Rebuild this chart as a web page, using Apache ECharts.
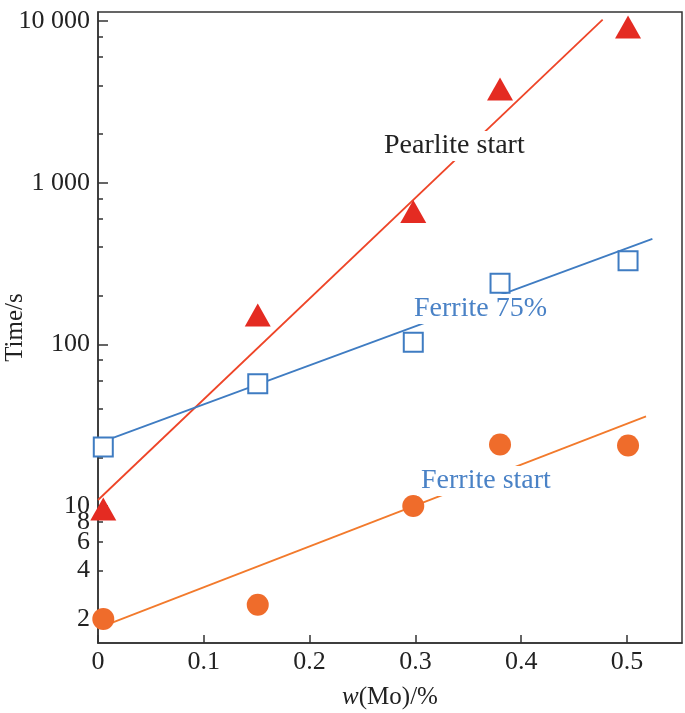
<!DOCTYPE html>
<html>
<head>
<meta charset="utf-8">
<script src="https://cdn.jsdelivr.net/npm/echarts@6/dist/echarts.min.js"></script>
<style>
  html, body { margin: 0; padding: 0; background: #fff; }
  #chart { width: 685px; height: 713px; }
</style>
</head>
<body>
<div id="chart"></div>
<script>
// Mo content (wt%) of the measured steels
const moContent = [0.005, 0.151, 0.298, 0.380, 0.501];
// times in seconds
const pearliteStart = [9.6, 152, 663, 3800, 9200];
const ferrite75 = [23.2, 57, 103, 239, 329];
const ferriteStart = [2.0, 2.45, 10.0, 24, 23.7];

// end points of the fitted lines
const pearliteFitX = [0, 0.477];
const pearliteFitY = [10.9, 10200];
const ferrite75FitX = [0, 0.524];
const ferrite75FitY = [24.4, 449];
const ferriteStartFitX = [0, 0.518];
const ferriteStartFitY = [1.76, 35.9];

// y axis tick labels (time, s)
const yLabelValues = [2, 4, 6, 8, 10, 100, 1000, 10000];
const yMajorTicks = [10, 100, 1000, 10000];
const yMinorTicks = [2, 4, 6, 8, 20, 40, 60, 80, 200, 400, 600, 800, 2000, 4000, 6000, 8000];
const xTicks = [0, 0.1, 0.2, 0.3, 0.4, 0.5];

const lg = v => Math.log10(v);
const pts = (xs, ys) => xs.map((x, i) => [x, lg(ys[i])]);

const fontFamily = '"Liberation Serif", "DejaVu Serif", serif';
const red = '#e42b22';
const redLine = '#ee4528';
const blue = '#3f7cc2';
const orange = '#ef6c2b';
const orangeLine = '#f27a2c';

const chart = echarts.init(document.getElementById('chart'));

chart.setOption({
    animation: false,
    textStyle: { fontFamily: fontFamily },
    grid: {
        left: 98,
        right: 3,
        top: 12,
        bottom: 70,
        outerBoundsMode: 'none',
        containLabel: false,
        show: true,
        borderColor: '#333',
        borderWidth: 1.5,
        backgroundColor: 'transparent'
    },
    xAxis: {
        type: 'value',
        min: 0,
        max: 0.552,
        interval: 0.1,
        name: '{i|w}(Mo)/%',
        nameLocation: 'middle',
        nameGap: 42,
        nameMoveOverlap: false,
        nameTextStyle: {
            fontSize: 25,
            color: '#222',
            fontFamily: fontFamily,
            rich: {
                i: { fontStyle: 'italic', fontSize: 25, color: '#222', fontFamily: fontFamily }
            }
        },
        axisLine: { lineStyle: { color: '#333', width: 1.5 } },
        axisTick: { inside: true, length: 8, lineStyle: { color: '#333', width: 1.5 }, customValues: xTicks },
        axisLabel: {
            customValues: xTicks,
            fontSize: 26,
            color: '#222',
            margin: 6,
            formatter: v => (v === 0 ? '0' : v.toFixed(1))
        },
        splitLine: { show: false }
    },
    yAxis: [
        {
            type: 'value',
            min: 0.153,
            max: 4.056,
            name: 'Time/s',
            nameLocation: 'middle',
            nameGap: 70,
            nameRotate: 90,
            nameMoveOverlap: false,
            nameTextStyle: { fontSize: 25, color: '#222', fontFamily: fontFamily },
            axisLine: { lineStyle: { color: '#333', width: 1.5 } },
            axisTick: {
                inside: true,
                length: 10,
                customValues: yMajorTicks.map(lg),
                lineStyle: { color: '#333', width: 1.5 }
            },
            axisLabel: {
                customValues: yLabelValues.map(lg),
                fontSize: 26,
                color: '#222',
                margin: 8,
                formatter: v => String(Math.round(Math.pow(10, v))).replace(/\B(?=(\d{3})+(?!\d))/g, ' ')
            },
            splitLine: { show: false }
        },
        {
            type: 'value',
            min: 0.153,
            max: 4.056,
            position: 'left',
            axisLine: { show: false },
            axisLabel: { show: false },
            axisTick: {
                inside: true,
                length: 5,
                customValues: yMinorTicks.map(lg),
                lineStyle: { color: '#333', width: 1.5 }
            },
            splitLine: { show: false }
        }
    ],
    series: [
        {
            name: 'Pearlite fit',
            type: 'line',
            data: pts(pearliteFitX, pearliteFitY),
            showSymbol: false,
            lineStyle: { color: redLine, width: 1.8 },
            z: 2
        },
        {
            name: 'Ferrite 75% fit',
            type: 'line',
            data: pts(ferrite75FitX, ferrite75FitY),
            showSymbol: false,
            lineStyle: { color: blue, width: 1.8 },
            z: 2
        },
        {
            name: 'Ferrite start fit',
            type: 'line',
            data: pts(ferriteStartFitX, ferriteStartFitY),
            showSymbol: false,
            lineStyle: { color: orangeLine, width: 1.8 },
            z: 2
        },
        {
            name: 'Pearlite start',
            type: 'scatter',
            data: pts(moContent, pearliteStart),
            symbol: 'triangle',
            symbolSize: [26, 23],
            itemStyle: { color: red, opacity: 1 },
            z: 5
        },
        {
            name: 'Ferrite 75%',
            type: 'scatter',
            data: pts(moContent, ferrite75),
            symbol: 'rect',
            symbolSize: 19,
            itemStyle: { color: '#fff', borderColor: blue, borderWidth: 2, opacity: 1 },
            z: 5
        },
        {
            name: 'Ferrite start',
            type: 'scatter',
            data: pts(moContent, ferriteStart),
            symbol: 'circle',
            symbolSize: 22,
            itemStyle: { color: orange, opacity: 1 },
            z: 5
        }
    ],
    graphic: [
        {
            type: 'text', left: 380, top: 131, z: 100,
            style: { text: 'Pearlite start', font: '28px ' + fontFamily, fill: '#222', backgroundColor: '#fff', padding: [1, 4] }
        },
        {
            type: 'text', left: 410, top: 294, z: 100,
            style: { text: 'Ferrite 75%', font: '28px ' + fontFamily, fill: '#4a82c6', backgroundColor: '#fff', padding: [1, 4] }
        },
        {
            type: 'text', left: 417, top: 466, z: 100,
            style: { text: 'Ferrite start', font: '28px ' + fontFamily, fill: '#4a82c6', backgroundColor: '#fff', padding: [1, 4] }
        }
    ]
});
</script>
</body>
</html>
